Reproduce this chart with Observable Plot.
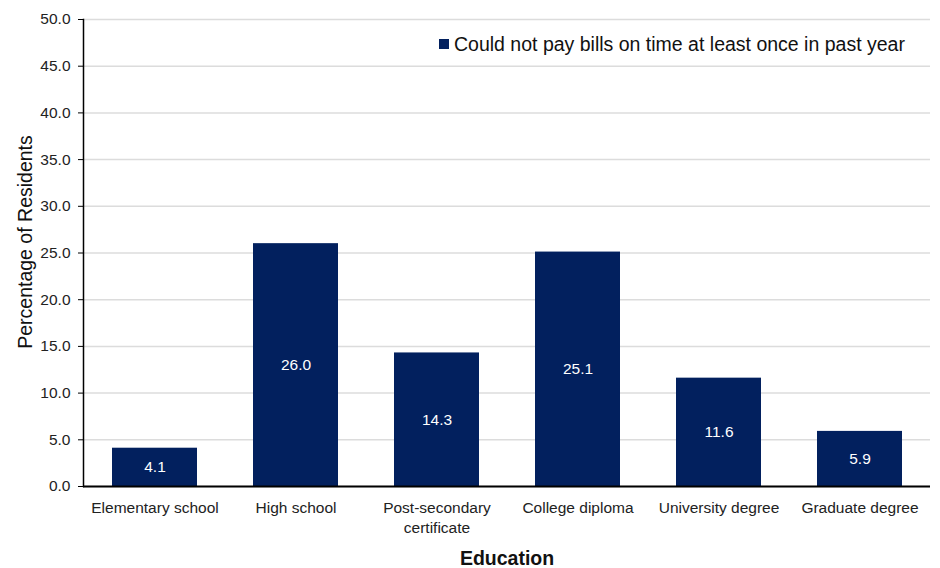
<!DOCTYPE html>
<html>
<head>
<meta charset="utf-8">
<script src="https://cdn.jsdelivr.net/npm/d3@7"></script>
<script src="https://cdn.jsdelivr.net/npm/@observablehq/plot@0.6"></script>
<style>
  html, body { margin: 0; padding: 0; background: #fff; }
  #wrap { position: relative; width: 940px; height: 568px; font-family: "Liberation Sans", Arial, sans-serif; }
  #legend { position: absolute; left: 439px; top: 32px; font-size: 19.5px; line-height: 24px; color: #111; display: flex; align-items: center; white-space: nowrap; z-index: 2; }
  #legend span.sw { display: inline-block; width: 10px; height: 10px; background: #02205e; margin-right: 5px; }
</style>
</head>
<body>
<div id="wrap"><div id="legend"><span class="sw"></span>Could not pay bills on time at least once in past year</div></div>
<script>
const categories = ["Elementary school", "High school", "Post-secondary certificate", "College diploma", "University degree", "Graduate degree"];
const tickLabels = ["Elementary school", "High school", "Post-secondary\ncertificate", "College diploma", "University degree", "Graduate degree"];
const values = [4.1, 26.0, 14.3, 25.1, 11.6, 5.9];
const yTicks = [0, 5, 10, 15, 20, 25, 30, 35, 40, 45, 50];
const seriesName = "Could not pay bills on time at least once in past year";

const data = categories.map((c, i) => ({category: c, value: values[i]}));
const labelMap = new Map(categories.map((c, i) => [c, tickLabels[i]]));
const color = "#02205e";

const chart = Plot.plot({
  width: 940,
  height: 568,
  marginLeft: 83,
  marginRight: 10,
  marginTop: 19,
  marginBottom: 82,
  style: {fontFamily: "'Liberation Sans', Arial, sans-serif", fontSize: "15.5px", color: "#222", background: "#fff"},
  x: {domain: categories, paddingInner: 0.4, paddingOuter: 0.19, label: null},
  y: {domain: [0, 50], label: null},
  marks: [
    Plot.gridY(yTicks, {stroke: "#dcdcdc", strokeOpacity: 1, strokeWidth: 1.5}),
    Plot.barY(data, {x: "category", y: "value", fill: color}),
    Plot.text(data, {x: "category", y: d => d.value / 2, text: d => d.value.toFixed(1), fill: "white", fontSize: 15.5}),
    Plot.axisY(yTicks, {tickFormat: d => d.toFixed(1), tickSize: 5, tickPadding: 8, fontSize: 15.5, label: null, stroke: "#000"}),
    Plot.axisX({tickFormat: d => labelMap.get(d), tickSize: 0, tickPadding: 12, fontSize: 15.5, label: null, lineHeight: 1.3}),
    Plot.frame({anchor: "left", stroke: "#000", strokeWidth: 1.5}),
    Plot.ruleY([0], {stroke: "#000", strokeWidth: 2}),
    Plot.text(["Education"], {frameAnchor: "bottom", dy: 78, text: d => d, fontSize: 19.5, fontWeight: "bold", fill: "#111"}),
    Plot.text(["Percentage of Residents"], {frameAnchor: "left", dx: -58, dy: -11, rotate: -90, textAnchor: "middle", text: d => d, fontSize: 19.5, fill: "#111"})
  ]
});
document.getElementById("wrap").prepend(chart);
chart.style.position = "absolute";
chart.style.left = "0";
chart.style.top = "0";
</script>
</body>
</html>
